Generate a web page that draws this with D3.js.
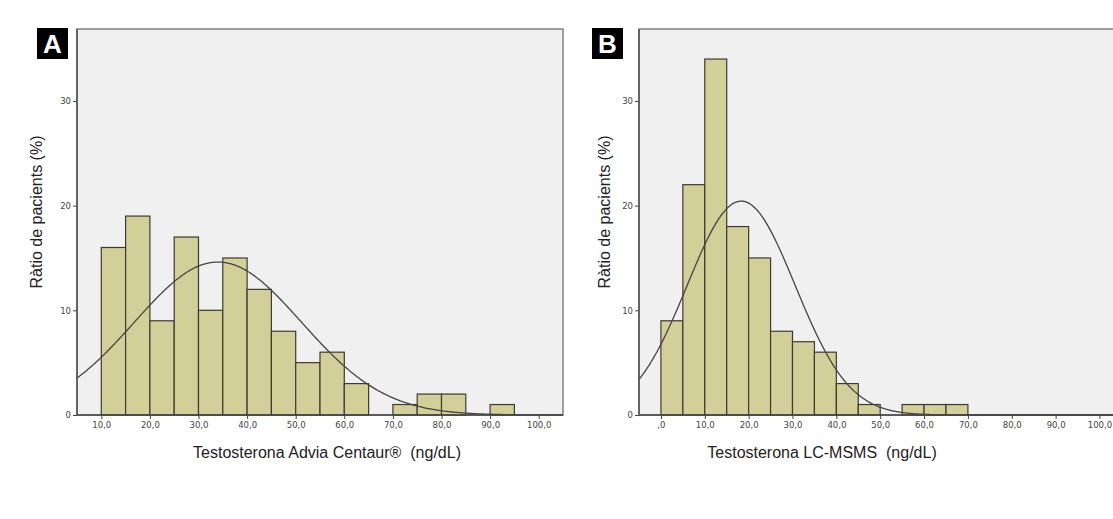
<!DOCTYPE html>
<html>
<head>
<meta charset="utf-8">
<script src="https://cdn.jsdelivr.net/npm/d3@7"></script>
<style>
  html, body { margin: 0; padding: 0; background: #ffffff; }
  svg { display: block; }
  .tick text { font-family: "DejaVu Sans", Verdana, sans-serif; font-size: 8.5px; fill: #444; }
  .title { font-family: "Liberation Sans", Arial, sans-serif; font-size: 16px; fill: #222; white-space: pre; }
</style>
</head>
<body>
<svg id="chart" width="1113" height="519"></svg>
<script>
// Bin lower edges (ng/dL) and counts per 5 ng/dL bin
const binsA = [10, 15, 20, 25, 30, 35, 40, 45, 50, 55, 60, 65, 70, 75, 80, 85, 90];
const countsA = [16, 19, 9, 17, 10, 15, 12, 8, 5, 6, 3, 0, 1, 2, 2, 0, 1];
const binsB = [0, 5, 10, 15, 20, 25, 30, 35, 40, 45, 50, 55, 60, 65];
const countsB = [9, 22, 34, 18, 15, 8, 7, 6, 3, 1, 0, 1, 1, 1];
const binWidth = 5;

// Fitted normal curve parameters (mean, standard deviation)
const normalA = { mean: 34.0, sd: 17.2 };
const normalB = { mean: 18.3, sd: 12.3 };

const xTicksA = [10, 20, 30, 40, 50, 60, 70, 80, 90, 100];
const xTicksB = [0, 10, 20, 30, 40, 50, 60, 70, 80, 90, 100];
const yTicks = [0, 10, 20, 30];

const xTitleA = "Testosterona Advia Centaur®  (ng/dL)";
const xTitleB = "Testosterona LC-MSMS  (ng/dL)";
const yTitle = "Ràtio de pacients (%)";

const svg = d3.select("#chart");

const fmt = v => v === 0 ? ",0" : d3.format(".1f")(v).replace(".", ",");

function panel(opts) {
  const { letter, bins, counts, normal, xDomain, xRange, xTicks, xTitle, xTitleX, yTitleX, letterX } = opts;
  const top = 29, bottom = 415;
  const x = d3.scaleLinear().domain(xDomain).range(xRange);
  const y = d3.scaleLinear().domain([0, 36.87]).range([bottom, top]);
  const g = svg.append("g");

  // plot background and frame
  g.append("rect")
    .attr("x", xRange[0]).attr("y", top)
    .attr("width", xRange[1] - xRange[0]).attr("height", bottom - top)
    .attr("fill", "#f0f0f0").attr("stroke", "#8a8a8a").attr("stroke-width", 1.6);

  // histogram bars
  const data = bins.map((b, i) => ({ x0: b, x1: b + binWidth, n: counts[i] })).filter(d => d.n > 0);
  g.selectAll("rect.bar").data(data).enter().append("rect")
    .attr("class", "bar")
    .attr("x", d => x(d.x0)).attr("y", d => y(d.n))
    .attr("width", d => x(d.x1) - x(d.x0)).attr("height", d => y(0) - y(d.n))
    .attr("fill", "#d3cf98").attr("stroke", "#3b3b30").attr("stroke-width", 1.2);

  // fitted normal curve scaled to counts per bin
  const total = d3.sum(counts);
  const pdf = v => total * binWidth / (normal.sd * Math.sqrt(2 * Math.PI)) *
    Math.exp(-((v - normal.mean) ** 2) / (2 * normal.sd ** 2));
  const pts = d3.range(xDomain[0], xDomain[1] + 0.01, 0.25);
  g.append("path")
    .datum(pts)
    .attr("d", d3.line().x(v => x(v)).y(v => y(pdf(v))).curve(d3.curveBasis))
    .attr("fill", "none").attr("stroke", "#444").attr("stroke-width", 1.3);

  // axes
  const xAxis = g.append("g").attr("transform", `translate(0,${bottom})`)
    .call(d3.axisBottom(x).tickValues(xTicks).tickFormat(fmt).tickSize(4).tickPadding(3));
  xAxis.select(".domain").remove();
  xAxis.selectAll(".tick line").attr("stroke", "#444");
  g.append("line").attr("x1", xRange[0]).attr("x2", xRange[1]).attr("y1", bottom).attr("y2", bottom)
    .attr("stroke", "#444").attr("stroke-width", 1.6);

  const yAxis = g.append("g").attr("transform", `translate(${xRange[0]},0)`)
    .call(d3.axisLeft(y).tickValues(yTicks).tickFormat(d3.format("d")).tickSize(4).tickPadding(2));
  yAxis.select(".domain").remove();
  yAxis.selectAll(".tick line").attr("stroke", "#444");
  g.append("line").attr("x1", xRange[0]).attr("x2", xRange[0]).attr("y1", top).attr("y2", bottom)
    .attr("stroke", "#555").attr("stroke-width", 1.6);

  // titles
  g.append("text").attr("class", "title")
    .attr("x", xTitleX).attr("y", 458).attr("text-anchor", "middle").text(xTitle);
  g.append("text").attr("class", "title")
    .attr("transform", `translate(${yTitleX},212) rotate(-90)`)
    .attr("text-anchor", "middle").text(yTitle);

  // panel letter
  g.append("rect").attr("x", letterX).attr("y", 28).attr("width", 31).attr("height", 31).attr("fill", "#000");
  g.append("text").attr("x", letterX + 15.5).attr("y", 53)
    .attr("text-anchor", "middle")
    .style("font-family", "Liberation Sans, Arial, sans-serif")
    .style("font-weight", "bold").style("font-size", "26px")
    .attr("fill", "#fff").text(letter);
}

panel({
  letter: "A", bins: binsA, counts: countsA, normal: normalA,
  xDomain: [5, 105], xRange: [77, 563], xTicks: xTicksA,
  xTitle: xTitleA, xTitleX: 327, yTitleX: 42, letterX: 37
});

panel({
  letter: "B", bins: binsB, counts: countsB, normal: normalB,
  xDomain: [-5, 105], xRange: [639, 1121.4], xTicks: xTicksB,
  xTitle: xTitleB, xTitleX: 822, yTitleX: 610, letterX: 592
});
</script>
</body>
</html>
